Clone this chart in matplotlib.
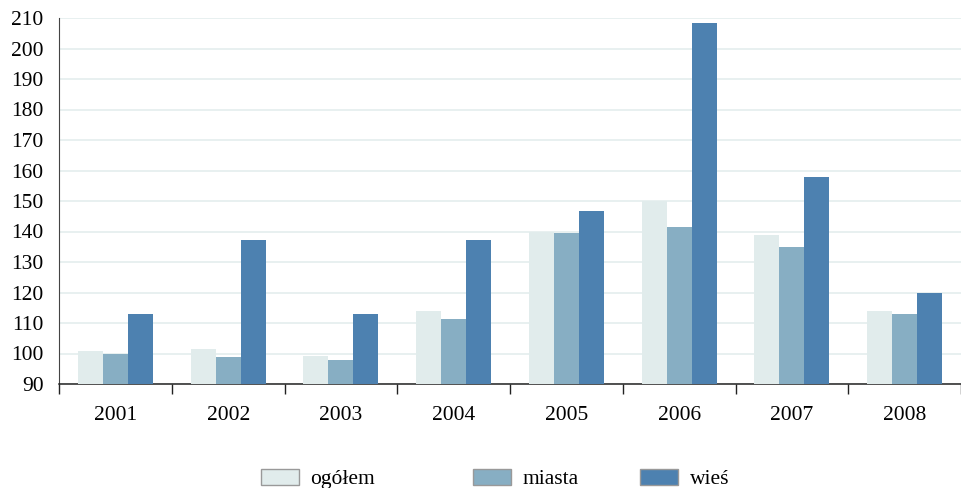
import numpy as np
import matplotlib
matplotlib.use('Agg')
import matplotlib.pyplot as plt
from matplotlib.ticker import FixedLocator, MultipleLocator

plt.rcParams['font.family'] = ['Liberation Serif', 'DejaVu Serif']

years = ['2001', '2002', '2003', '2004', '2005', '2006', '2007', '2008']
ogolem = [100.7, 101.6, 99.3, 113.8, 140.0, 150.0, 138.9, 113.8]
miasta = [100.0, 98.7, 98.0, 111.2, 139.6, 141.4, 134.8, 112.8]
wies = [112.9, 137.1, 112.9, 137.1, 146.6, 208.2, 158.0, 119.8]

series = [('ogółem', ogolem, '#e1ecec'),
          ('miasta', miasta, '#87aec3'),
          ('wieś', wies, '#4d81b0')]

W, H = 961, 488
FS = 15.5
fig = plt.figure(figsize=(W / 100, H / 100), dpi=100)
ax = fig.add_axes([59 / W, 104 / H, (W - 59) / W, 366 / H])

x = np.arange(len(years))
bw = 0.222
bars = []
for i, (name, vals, col) in enumerate(series):
    b = ax.bar(x + (i - 1) * bw, np.array(vals) - 90, bw, bottom=90,
               color=col, edgecolor='none', zorder=3, label=name)
    bars.append(b)

ax.set_xlim(-0.5, len(years) - 0.5)
ax.set_ylim(90, 210)
ax.yaxis.set_major_locator(MultipleLocator(10))
ax.grid(axis='y', color='#e4eeee', linewidth=1.2, zorder=0)
ax.tick_params(axis='y', length=0, pad=11, labelsize=FS)

# group separators as major ticks, year labels on minor ticks
ax.xaxis.set_major_locator(FixedLocator(np.arange(-0.5, len(years), 1.0)))
ax.xaxis.set_major_formatter(plt.NullFormatter())
ax.xaxis.set_minor_locator(FixedLocator(x))
ax.set_xticks(x, years, minor=True)
ax.tick_params(axis='x', which='major', direction='out', length=7, width=1, color='#222222')
ax.tick_params(axis='x', which='minor', length=0, pad=16, labelsize=FS)

for s in ['top', 'right']:
    ax.spines[s].set_visible(False)
ax.spines['left'].set_color('#444444')
ax.spines['bottom'].set_color('#222222')
ax.spines['bottom'].set_linewidth(1.1)

# legend entries laid out like the original
leg_x = [261, 473, 640]
for b, (name, vals, col), lx in zip(bars, series, leg_x):
    lg = fig.legend(handles=[b], labels=[name], loc='center left',
                    bbox_to_anchor=(lx / W, 1 - 479 / H), frameon=False,
                    borderpad=0, borderaxespad=0, handlelength=1.75,
                    handleheight=0.75, handletextpad=0.55, fontsize=FS)
    for p in lg.get_patches():
        p.set_edgecolor('#999999')
        p.set_linewidth(1)

fig.savefig('out.png', dpi=100)
